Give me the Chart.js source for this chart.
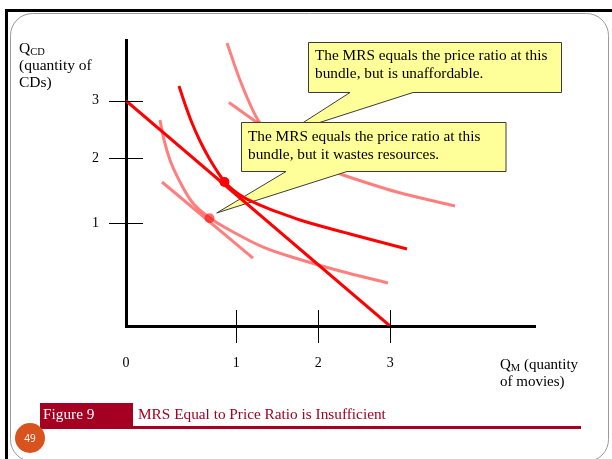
<!DOCTYPE html>
<html>
<head>
<meta charset="utf-8">
<script src="https://cdn.jsdelivr.net/npm/chart.js@4.4.1/dist/chart.umd.min.js"></script>
<style>
  html, body { margin: 0; padding: 0; background: #fff; }
  #slide { position: relative; width: 612px; height: 459px; overflow: hidden;
           font-family: "Liberation Serif", "Times New Roman", serif; }
  #slide canvas { position: absolute; left: 0; top: 0; }
  .txt { position: absolute; color: #000; font-size: 15px; line-height: 16.5px; white-space: nowrap; }
  .txt sub { font-size: 10.5px; vertical-align: -2px; line-height: 0; }
  .note { font-size: 15.3px; line-height: 18px; }
  .foot { position: absolute; font-size: 15.3px; line-height: 18px; white-space: nowrap; }
  #pageNo { position: absolute; left: 15px; top: 423px; width: 30px; height: 30px;
            text-align: center; color: #fff; font: 10px "Open Sans", sans-serif; line-height: 30px; }
</style>
</head>
<body>
<div id="slide">
  <canvas id="chart" width="612" height="459"></canvas>
  <div class="txt" style="left:19px; top:39px; font-size:15.5px; line-height:17px;">Q<sub>CD</sub><br>(quantity of<br>CDs)</div>
  <div class="txt" style="left:500px; top:356px;">Q<sub>M</sub> (quantity<br>of movies)</div>
  <div class="txt note" style="left:315px; top:46px;">The MRS equals the price ratio at this<br>bundle, but is unaffordable.</div>
  <div class="txt note" style="left:248px; top:127px;">The MRS equals the price ratio at this<br>bundle, but it wastes resources.</div>
  <div class="foot" style="left:43px; top:405px; color:#fff;">Figure 9</div>
  <div class="foot" style="left:138px; top:405px; color:#a50021;">MRS Equal to Price Ratio is Insufficient</div>
  <div id="pageNo">49</div>
</div>
<script>
// axis ticks (the original figure spaces them unevenly)
const xTickValues = [0, 1.253, 2.185, 3.003];
const xTickLabels = ['0', '1', '2', '3'];
const yTickValues = [1.367, 2.233, 3.0];
const yTickLabels = ['1', '2', '3'];

// budget line
const budgetQM = [0, 3];
const budgetQCD = [3, 0];

// indifference curve through the chosen bundle
const icMidQM = [0.602, 0.67, 0.75, 0.841, 0.943, 1.034, 1.114, 1.216, 1.352, 1.523, 1.75, 1.977, 2.545, 3.193];
const icMidQCD = [3.196, 2.956, 2.703, 2.463, 2.237, 2.064, 1.931, 1.811, 1.704, 1.611, 1.505, 1.411, 1.225, 1.025];

// lower indifference curve + its tangent line
const icLowQM = [0.386, 0.432, 0.5, 0.614, 0.75, 0.955, 1.239, 1.58, 1.977, 2.432, 2.977];
const icLowQCD = [2.743, 2.477, 2.21, 1.917, 1.651, 1.438, 1.238, 1.039, 0.885, 0.732, 0.573];
const lineLowQM = [0.409, 1.443];
const lineLowQCD = [1.917, 0.905];

// higher indifference curve + its tangent line
const icHighQM = [1.148, 1.295, 1.5, 1.807, 2.148, 2.466, 3.08, 3.739];
const icHighQCD = [3.768, 3.276, 2.743, 2.37, 2.144, 2.011, 1.784, 1.598];
const lineHighQM = [1.17, 1.977];
const lineHighQCD = [2.976, 2.304];

// marked bundles
const chosenQM = [1.119], chosenQCD = [1.917];
const wasteQM = [0.949], wasteQCD = [1.434];

// where the callout pointers aim
const unaffordTipQM = 1.83, unaffordTipQCD = 2.57;
const wasteTipQM = 1.031, wasteTipQCD = 1.505;

const RED = '#ff0000';
const PINK = 'rgba(255, 0, 0, 0.5)';

function pts(xs, ys) {
  return xs.map((x, i) => ({ x: x, y: ys[i] }));
}

function curve(xs, ys, color, order) {
  return {
    data: pts(xs, ys),
    borderColor: color,
    borderWidth: 3,
    pointRadius: 0,
    cubicInterpolationMode: 'monotone',
    fill: false,
    order: order
  };
}

function dot(xs, ys, color, order) {
  return {
    data: pts(xs, ys),
    showLine: false,
    pointRadius: 5,
    pointBackgroundColor: color,
    pointBorderWidth: 0,
    order: order
  };
}

// slide decoration behind the chart
const slideFrame = {
  id: 'slideFrame',
  beforeDraw(chart) {
    const ctx = chart.ctx;
    ctx.save();
    ctx.fillStyle = '#fff';
    ctx.fillRect(0, 0, 612, 459);
    ctx.strokeStyle = '#9a9a9a';
    ctx.lineWidth = 1;
    ctx.beginPath();
    ctx.roundRect(10.5, 13.5, 598, 448, 22);
    ctx.stroke();
    ctx.fillStyle = '#000';
    ctx.fillRect(5, 9, 607, 3);
    ctx.fillRect(5, 9, 3, 450);
    ctx.fillStyle = '#a50021';
    ctx.fillRect(40, 403, 93, 24);
    ctx.fillRect(40, 426, 541, 3);
    ctx.fillStyle = '#d9531e';
    ctx.beginPath();
    ctx.arc(30, 438, 15, 0, Math.PI * 2);
    ctx.fill();
    ctx.restore();
  }
};

// callout shapes: drawn over the pale curves, under the bright ones
const callouts = {
  id: 'callouts',
  beforeDatasetsDraw() { this.done = false; },
  beforeDatasetDraw(chart, args) {
    if (this.done || chart.data.datasets[args.index].order !== 1) return;
    this.done = true;
    const xs = chart.scales.x, ys = chart.scales.y;
    const boxes = [
      { l: 308.5, t: 42.5, r: 561.5, b: 92.5, b0: 350, b1: 413, tx: unaffordTipQM, ty: unaffordTipQCD },
      { l: 241.5, t: 122.5, r: 506, b: 171.5, b0: 286, b1: 347, tx: wasteTipQM, ty: wasteTipQCD }
    ];
    const ctx = chart.ctx;
    ctx.save();
    boxes.forEach(c => {
      ctx.beginPath();
      ctx.moveTo(c.l, c.t);
      ctx.lineTo(c.r, c.t);
      ctx.lineTo(c.r, c.b);
      ctx.lineTo(c.b1, c.b);
      ctx.lineTo(xs.getPixelForValue(c.tx), ys.getPixelForValue(c.ty));
      ctx.lineTo(c.b0, c.b);
      ctx.lineTo(c.l, c.b);
      ctx.closePath();
      ctx.fillStyle = '#ffff99';
      ctx.fill();
      ctx.strokeStyle = '#3c3c3c';
      ctx.lineWidth = 1;
      ctx.stroke();
    });
    ctx.restore();
  }
};

// tick marks that cross the axes
const crossTicks = {
  id: 'crossTicks',
  afterDraw(chart) {
    const { ctx, chartArea, scales } = chart;
    ctx.save();
    ctx.strokeStyle = '#000';
    ctx.lineWidth = 1;
    ctx.beginPath();
    xTickValues.forEach(v => {
      if (v === 0) return;
      const x = Math.round(scales.x.getPixelForValue(v)) + 0.5;
      ctx.moveTo(x, chartArea.bottom - 16);
      ctx.lineTo(x, chartArea.bottom + 17);
    });
    yTickValues.forEach(v => {
      const y = Math.round(scales.y.getPixelForValue(v)) + 0.5;
      ctx.moveTo(chartArea.left - 17, y);
      ctx.lineTo(chartArea.left + 17, y);
    });
    ctx.stroke();
    ctx.restore();
  }
};

const tickFont = { family: '"Liberation Serif", "Times New Roman", serif', size: 14 };

new Chart(document.getElementById('chart'), {
  type: 'line',
  data: {
    datasets: [
      curve(budgetQM, budgetQCD, RED, 1),
      curve(icMidQM, icMidQCD, RED, 1),
      dot(chosenQM, chosenQCD, RED, 1),
      curve(icLowQM, icLowQCD, PINK, 2),
      curve(lineLowQM, lineLowQCD, PINK, 2),
      curve(icHighQM, icHighQCD, PINK, 2),
      curve(lineHighQM, lineHighQCD, PINK, 2),
      dot(wasteQM, wasteQCD, 'rgba(255, 60, 60, 0.75)', 2)
    ]
  },
  options: {
    responsive: false,
    animation: false,
    events: [],
    layout: { padding: { left: 0, top: 40, right: 77, bottom: 73 } },
    plugins: { legend: { display: false }, tooltip: { enabled: false } },
    scales: {
      x: {
        type: 'linear',
        min: 0,
        max: 4.648,
        afterFit(scale) { scale.height = 60; },
        afterBuildTicks(scale) { scale.ticks = xTickValues.map(v => ({ value: v })); },
        grid: { display: false, drawTicks: false },
        border: { display: true, width: 3, color: '#000' },
        ticks: {
          autoSkip: false,
          maxRotation: 0,
          padding: 29,
          color: '#000',
          font: tickFont,
          callback: (v, i) => xTickLabels[i]
        }
      },
      y: {
        type: 'linear',
        min: 0,
        max: 3.808,
        afterFit(scale) { scale.width = 126; },
        afterBuildTicks(scale) { scale.ticks = yTickValues.map(v => ({ value: v })); },
        grid: { display: false, drawTicks: false },
        border: { display: true, width: 3, color: '#000' },
        ticks: {
          autoSkip: false,
          padding: 27,
          color: '#000',
          font: tickFont,
          callback: (v, i) => yTickLabels[i]
        }
      }
    }
  },
  plugins: [slideFrame, callouts, crossTicks]
});
</script>
</body>
</html>
